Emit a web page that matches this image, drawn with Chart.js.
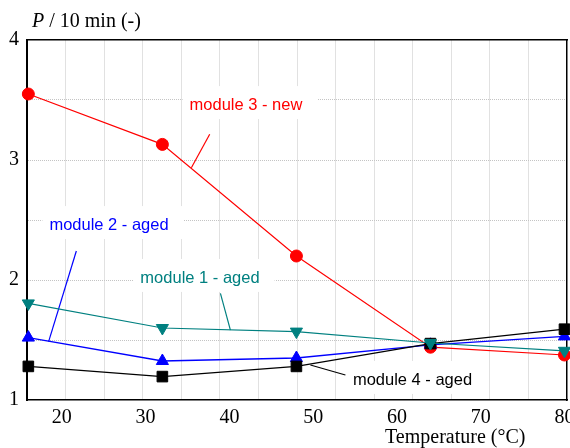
<!DOCTYPE html>
<html><head><meta charset="utf-8">
<script src="https://cdn.jsdelivr.net/npm/chart.js@4.4.0/dist/chart.umd.min.js"></script>
<style>html,body{margin:0;padding:0;background:#fff;}#wrap{width:570px;height:448px;position:relative;}</style>
</head><body><div id="wrap"><canvas id="c" width="570" height="448"></canvas></div>
<script>
// ---- data ----
const temperatures = [16, 32, 48, 64, 80];
const module1Aged = [1.805, 1.60, 1.57, 1.475, 1.41];
const module2Aged = [1.52, 1.325, 1.35, 1.46, 1.53];
const module3New  = [3.55, 3.13, 2.20, 1.44, 1.375];
const module4Aged = [1.28, 1.195, 1.28, 1.47, 1.59];
const xTickLabels = [20, 30, 40, 50, 60, 70, 80];
const yTickLabels = [1, 2, 3, 4];
const seriesNames = ['module 1 - aged', 'module 2 - aged', 'module 3 - new', 'module 4 - aged'];

const SERIF = '"Liberation Serif", "Times New Roman", serif';
const SANS = '"Liberation Sans", Arial, sans-serif';

// annotation anchors in data units
const annotations = [
  {text: seriesNames[2], color: '#ff0000', at: [41.98, 3.458], leader: [[37.65, 3.214], [35.46, 2.936]]},
  {text: seriesNames[1], color: '#0000ff', at: [25.63, 2.458], leader: [[21.73, 2.242], [18.42, 1.486]]},
  {text: seriesNames[0], color: '#008080', at: [36.49, 2.017], leader: [[38.93, 1.889], [40.12, 1.583]]},
  {text: seriesNames[3], color: '#000000', at: [61.86, 1.167], leader: [[49.67, 1.292], [53.85, 1.208]]}
];

const pts = arr => temperatures.map((t, i) => ({x: t, y: arr[i]}));

const deco = {
  id: 'deco',
  beforeDatasetsDraw(chart) {
    const {ctx, scales: {x, y}} = chart;
    ctx.save();
    ctx.font = '16.5px ' + SANS;
    annotations.forEach(a => {
      const cx = x.getPixelForValue(a.at[0]), cy = y.getPixelForValue(a.at[1]);
      const w = ctx.measureText(a.text).width;
      ctx.fillStyle = '#fff';
      ctx.fillRect(cx - w / 2 - 7, cy - 19, w + 22, 33);
      ctx.strokeStyle = a.color; ctx.lineWidth = 1.2;
      ctx.beginPath();
      ctx.moveTo(x.getPixelForValue(a.leader[0][0]), y.getPixelForValue(a.leader[0][1]));
      ctx.lineTo(x.getPixelForValue(a.leader[1][0]), y.getPixelForValue(a.leader[1][1]));
      ctx.stroke();
      ctx.fillStyle = a.color; ctx.textAlign = 'center'; ctx.textBaseline = 'middle';
      ctx.fillText(a.text, cx, cy);
    });
    ctx.restore();
  },
  afterDraw(chart) {
    const {ctx, chartArea} = chart;
    ctx.save();
    ctx.fillStyle = '#000';
    ctx.textBaseline = 'alphabetic';
    ctx.textAlign = 'left';
    // y title
    let tx = chartArea.left + 5;
    const ty = chartArea.top - 13;
    ctx.font = 'italic 20px ' + SERIF;
    ctx.fillText('P', tx, ty);
    tx += ctx.measureText('P').width;
    ctx.font = '20px ' + SERIF;
    ctx.fillText(' / 10 min (-)', tx, ty);
    // x title
    ctx.fillText('Temperature (°C)', chartArea.left + 358, chartArea.bottom + 43);
    ctx.restore();
  }
};

const gridColor = '#c4c4c4';

new Chart(document.getElementById('c'), {
  type: 'line',
  data: {
    datasets: [
      {label: seriesNames[0], data: pts(module1Aged), borderColor: '#008080', backgroundColor: '#008080',
       pointStyle: 'triangle', rotation: 180, pointRadius: 7, borderWidth: 1.2, pointBorderWidth: 1, clip: false},
      {label: seriesNames[3], data: pts(module4Aged), borderColor: '#000000', backgroundColor: '#000000',
       pointStyle: 'rect', pointRadius: 7.5, borderWidth: 1.2, pointBorderWidth: 1, clip: false},
      {label: seriesNames[1], data: pts(module2Aged), borderColor: '#0000ff', backgroundColor: '#0000ff',
       pointStyle: 'triangle', pointRadius: 7, borderWidth: 1.3, pointBorderWidth: 1, clip: false},
      {label: seriesNames[2], data: pts(module3New), borderColor: '#ff0000', backgroundColor: '#ff0000',
       pointStyle: 'circle', pointRadius: 6, borderWidth: 1.2, pointBorderWidth: 1, clip: false}
    ]
  },
  options: {
    responsive: false,
    animation: false,
    events: [],
    layout: {autoPadding: false, padding: {top: 40, left: 0, right: 0, bottom: 0}},
    plugins: {legend: {display: false}, tooltip: {enabled: false}},
    elements: {line: {tension: 0}},
    scales: {
      x: {
        type: 'linear', position: 'bottom', min: 15.84, max: 80.3,
        afterBuildTicks: s => { s.ticks = xTickLabels.map(v => ({value: v})); },
        grid: {display: false, drawTicks: false, tickLength: 0},
        border: {display: true, color: '#000', width: 1.5},
        ticks: {font: {family: SERIF, size: 20}, color: '#000', padding: 6, maxRotation: 0, autoSkip: false},
        afterFit: s => { s.height = 48; s.paddingLeft = 0; s.paddingRight = 0; }
      },
      xg: {
        type: 'linear', position: 'top', min: 0, max: 14,
        ticks: {display: false, stepSize: 1},
        grid: {color: c => (c.tick && (c.tick.value === 0 || c.tick.value === 14)) ? 'rgba(0,0,0,0)' : gridColor,
               lineWidth: 1, drawTicks: false, tickLength: 0},
        border: {display: true, color: '#000', width: 1.5, dash: [1, 1]},
        afterFit: s => { s.height = 0; s.paddingLeft = 0; s.paddingRight = 0; }
      },
      y: {
        type: 'linear', position: 'left', min: 1, max: 4,
        ticks: {stepSize: 0.5, autoSkip: false,
                callback: v => yTickLabels.includes(v) ? String(v) : '',
                font: {family: SERIF, size: 20}, color: '#000', padding: 8},
        grid: {color: c => (c.tick && (c.tick.value === 1 || c.tick.value === 4)) ? 'rgba(0,0,0,0)' : gridColor,
               lineWidth: 1, drawTicks: false, tickLength: 0},
        border: {display: true, color: '#000', width: 2, dash: [1, 1]},
        afterFit: s => { s.width = 27; s.paddingTop = 0; s.paddingBottom = 0; }
      },
      yr: {
        type: 'linear', position: 'right', min: 1, max: 4,
        ticks: {display: false},
        grid: {display: false, drawTicks: false, tickLength: 0},
        border: {display: true, color: '#000', width: 1.5},
        afterFit: s => { s.width = 3; s.paddingTop = 0; s.paddingBottom = 0; }
      }
    }
  },
  plugins: [deco]
});
</script>
</body></html>
